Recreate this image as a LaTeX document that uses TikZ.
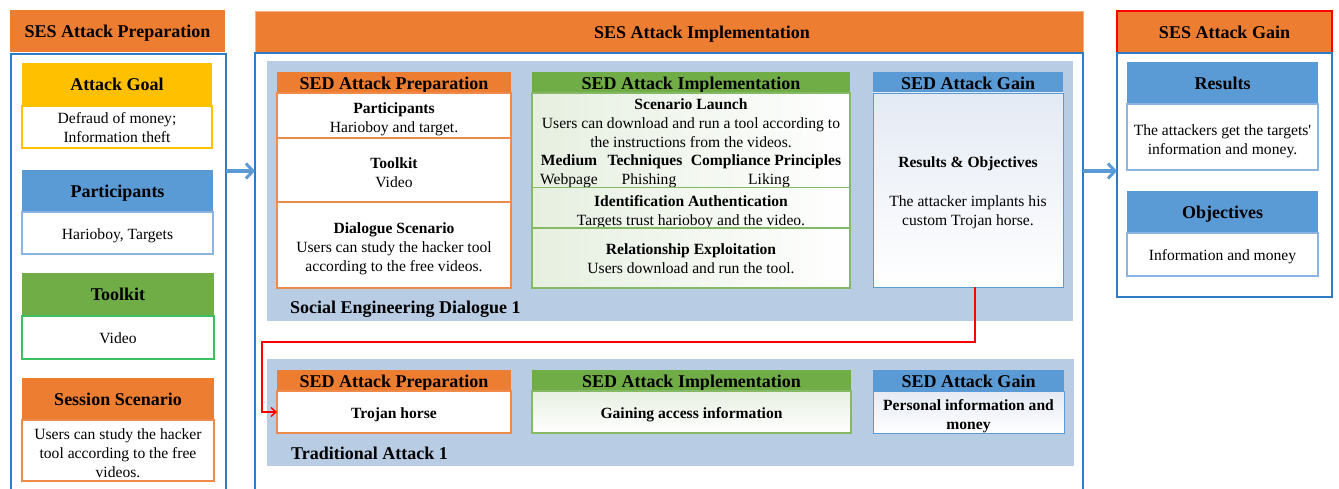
\documentclass[tikz,border=0pt]{standalone}
\usepackage{fontspec}
\setmainfont{Liberation Serif}[Ligatures=TeXOff]
\usetikzlibrary{arrows.meta}

\definecolor{sesorange}{HTML}{ED7D31}
\definecolor{sesyellow}{HTML}{FFC000}
\definecolor{sesblue}{HTML}{5B9BD5}
\definecolor{sesgreen}{HTML}{70AD47}
\definecolor{frameblue}{HTML}{2E7CC6}
\definecolor{panelblue}{HTML}{B8CCE4}
\definecolor{toolgreen}{HTML}{3CC063}
\definecolor{partblue}{HTML}{8DB3E2}
\definecolor{implline}{HTML}{86B965}
\definecolor{implshade}{HTML}{E6EFE0}
\definecolor{gainshade}{HTML}{E4EAF4}
\definecolor{prepline}{HTML}{F08A4B}

% line struts so that text blocks sit like word-processor lines
\newcommand{\bigtop}{\rule{0pt}{17pt}}
\newcommand{\bigbot}{\rule[-4pt]{0pt}{4pt}}
\newcommand{\smltop}{\rule{0pt}{15.5pt}}
\newcommand{\smlbot}{\rule[-3.4pt]{0pt}{3.4pt}}
% struts for the first and last line of multi-line blocks
\newcommand{\ftop}{\rule{0pt}{18.5pt}}
\newcommand{\mtop}{\rule{0pt}{14.5pt}}
\newcommand{\fbot}{\rule[-3.4pt]{0pt}{3.4pt}}

\tikzset{
  % rectangle given by its corners x1/y1/x2/y2
  spot/.style args={#1/#2/#3/#4}{at={({(#1+#3)/2},{(#2+#4)/2})},
    minimum width={(#3-#1)*1pt}, minimum height={(#4-#2)*1pt}},
  bigstrut/.style={execute at begin node=\bigtop, execute at end node=\bigbot},
  smlstrut/.style={execute at begin node=\smltop, execute at end node=\smlbot},
  hdr/.style={rectangle, inner sep=0pt, outer sep=0pt, align=center, bigstrut,
    font=\fontsize{18}{21}\selectfont\bfseries},
  frame/.style={rectangle, inner sep=0pt, outer sep=0pt, draw=frameblue, line width=1.3pt},
  panel/.style={rectangle, inner sep=0pt, outer sep=0pt, fill=panelblue},
  body/.style={rectangle, inner sep=0pt, outer sep=0pt, fill=white, line width=1.2pt,
    align=center, smlstrut, font=\fontsize{15.6}{19}\selectfont},
  txt/.style={inner sep=0pt, align=center, smlstrut, font=\fontsize{15.6}{19}\selectfont},
  btxt/.style={inner sep=0pt, align=center, smlstrut, font=\fontsize{15.6}{19}\selectfont\bfseries},
  caption/.style={inner sep=0pt, anchor=west, bigstrut, font=\fontsize{18}{21}\selectfont\bfseries},
  flow/.style={draw=sesblue, line width=3.6pt, -{Straight Barb[length=7pt,width=15pt,line width=3pt]}},
  link/.style={draw=red, line width=1.6pt, -{Straight Barb[length=5pt,width=9pt,line width=1.4pt]}}
}

\begin{document}
\begin{tikzpicture}[x=1pt,y=-1pt]
\useasboundingbox[fill=white] (0,0) rectangle (1339,489);

% ---------- SES attack preparation ----------
\node[hdr, fill=sesorange, spot=10/10/225/52] (prephead) {SES Attack Preparation};
\node[frame, spot=11/54/226/500] (prepframe) {};

\node[hdr, fill=sesyellow, spot=22/63/212/106] (goalhead) {Attack Goal};
\node[body, draw=sesyellow, spot=22/106/212/148] (goalbody) {\mtop Defraud of money;\\Information theft\fbot};

\node[hdr, fill=sesblue, spot=22/170/213/212] (parthead) {Participants};
\node[body, draw=partblue, spot=22/212/213/254] (partbody) {Harioboy, Targets};

\node[hdr, fill=sesgreen, spot=22/273/214/316] (toolhead) {Toolkit};
\node[body, draw=toolgreen, line width=1.6pt, spot=22/316/214/359] (toolbody) {Video};

\node[hdr, fill=sesorange, spot=22/378/214/420] (scenhead) {Session Scenario};
\node[body, draw=prepline, line width=1.6pt, spot=22/420/214/481] (scenbody)
  {\ftop Users can study the hacker\\tool according to the free\\videos.\fbot};

% ---------- SES attack implementation ----------
\node[hdr, fill=sesorange, draw=sesorange!60!white, line width=0.6pt, spot=255/11/1083/53] (implhead) {};
\node[hdr] (implheadtext) at (702,32) {SES Attack Implementation};
\node[frame, spot=255/53/1083/500] (implframe) {};

% social engineering dialogue 1
\node[panel, spot=267/61/1073/321] (dlgpanel) {};
\node[caption] (dlgcaption) at (290,307) {Social Engineering Dialogue 1};

\node[hdr, fill=sesorange, spot=277/73/511/93] (dprephead) {SED Attack Preparation};
\node[body, draw=prepline, spot=277/93/511/138] (dprep1) {\ftop\textbf{Participants}\\Harioboy and target.\fbot};
\node[body, draw=prepline, spot=277/138/511/202] (dprep2) {\ftop\textbf{Toolkit}\\Video\fbot};
\node[body, draw=prepline, spot=277/202/511/288] (dprep3)
  {\ftop\textbf{Dialogue Scenario}\\Users can study the hacker tool\\according to the free videos.\fbot};

\node[hdr, fill=sesgreen, spot=532/73/850/93] (dimplhead) {SED Attack Implementation};
\node[body, draw=implline, left color=implshade, right color=white, spot=532/93/850/188] (dimpl1) {};
\node[txt] (launch) at (691,121) {\ftop\textbf{Scenario Launch}\\Users can download and run a tool according to\\the instructions from the videos.\fbot};
\node[btxt] (mediumlbl) at (569,159.2) {Medium};
\node[btxt] (techlbl) at (645,159.2) {Techniques};
\node[btxt] (complbl) at (766,159.2) {Compliance Principles};
\node[txt] (mediumval) at (569,178.2) {Webpage};
\node[txt] (techval) at (649,178.2) {Phishing};
\node[txt] (compval) at (769,178.2) {Liking};
\node[body, draw=implline, left color=implshade, right color=white, spot=532/188/850/228] (dimpl2)
  {\ftop\textbf{Identification Authentication}\\Targets trust harioboy and the video.\fbot};
\node[body, draw=implline, left color=implshade, right color=white, spot=532/228/850/288] (dimpl3)
  {\mtop\textbf{Relationship Exploitation}\\Users download and run the tool.\fbot};

\node[hdr, fill=sesblue, spot=873/73/1063/93] (dgainhead) {SED Attack Gain};
\node[body, draw=sesblue, line width=0.9pt, top color=gainshade, bottom color=white, spot=873/93/1063/287] (dgainbody) {};
\node[btxt] (resobj) at (968,161.5) {Results \& Objectives};
\node[txt] (implant) at (968,208) {\ftop The attacker implants his\\custom Trojan horse.\fbot};

% traditional attack 1
\node[panel, spot=267/359/1074/466] (tradpanel) {};
\node[caption] (tradcaption) at (291,453) {Traditional Attack 1};

\node[hdr, fill=sesorange, spot=277/370/511/391] (tprephead) {SED Attack Preparation};
\node[body, draw=prepline, font=\fontsize{15.6}{19}\selectfont\bfseries, spot=277/391/511/433] (tprepbody) {Trojan horse};

\node[hdr, fill=sesgreen, spot=532/370/851/391] (timplhead) {SED Attack Implementation};
\node[body, draw=implline, top color=implshade, bottom color=white, font=\fontsize{15.6}{19}\selectfont\bfseries, spot=532/391/851/433] (timplbody) {Gaining access information};

\node[hdr, fill=sesblue, spot=873/370/1064/391] (tgainhead) {SED Attack Gain};
\node[body, draw=sesblue, line width=0.9pt, top color=gainshade, bottom color=white, font=\fontsize{15.6}{19}\selectfont\bfseries, spot=873/391/1064/433] (tgainbody) {\ftop Personal information and\\money\fbot};

% ---------- SES attack gain ----------
\node[hdr, fill=sesorange, draw=red, line width=1.3pt, spot=1117/11/1332/53] (gainhead) {SES Attack Gain};
\node[frame, spot=1117/53/1332/297] (gainframe) {};

\node[hdr, fill=sesblue, spot=1127/62/1318/104] (reshead) {Results};
\node[body, draw=partblue, spot=1127/104/1318/170] (resbody) {\ftop The attackers get the targets'\\information and money.\fbot};

\node[hdr, fill=sesblue, spot=1127/191/1318/233] (objhead) {Objectives};
\node[body, draw=partblue, spot=1127/233/1318/276] (objbody) {Information and money};

% ---------- connectors ----------
\coordinate (flowlevel) at (0,171);
\draw[flow] (prepframe.east |- flowlevel) -- (implframe.west |- flowlevel);
\draw[flow] (implframe.east |- flowlevel) -- (gainframe.west |- flowlevel);

\coordinate (linkbend) at (262,342);
\draw[link] ([xshift=7pt]dgainbody.south) |- (linkbend) |- (tprepbody.west);
\end{tikzpicture}
\end{document}
